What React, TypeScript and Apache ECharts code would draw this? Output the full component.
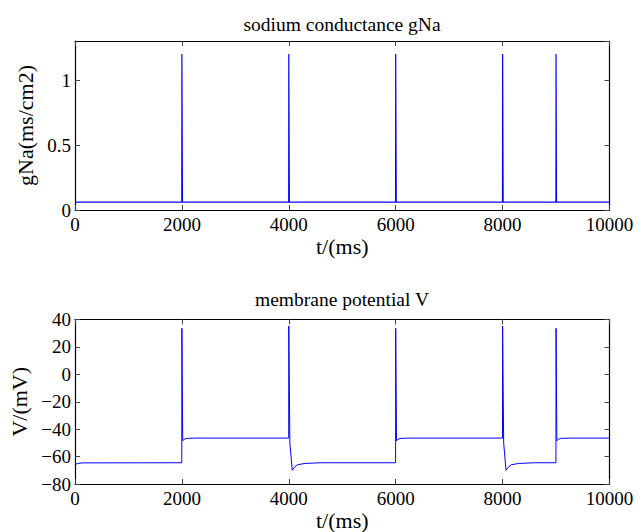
import React, { useEffect, useRef } from "react";
import * as echarts from "echarts";

const titles = ["sodium conductance gNa", "membrane potential V"];
const xName = "t/(ms)";
const yNames = ["gNa(ms/cm2)", "V/(mV)"];

const gNaTime = [0, 1998, 2000, 2010, 3998, 4000, 4010, 5998, 6000, 6010, 7998, 8000, 8010, 8998, 9000, 9008, 10000];
const gNaValue = [0.06, 0.06, 1.2, 0.06, 0.06, 1.2, 0.06, 0.06, 1.2, 0.06, 0.06, 1.2, 0.06, 0.06, 1.2, 0.06, 0.06];

const vTime = [
  0, 50, 150,
  1998, 2000, 2015, 2045, 2100, 2300,
  3998, 4000, 4020, 4064, 4100, 4160, 4300, 4600,
  5998, 6000, 6015, 6045, 6100, 6300,
  7998, 8000, 8020, 8064, 8100, 8160, 8300, 8600,
  8998, 9000, 9015, 9045, 9100, 9300,
  10000,
];
const vValue = [
  -66, -65, -64.6,
  -64.5, 33.6, -48.5, -47.3, -46.7, -46.5,
  -46.5, 35.2, -50, -70, -68, -66, -65, -64.5,
  -64.5, 33.6, -48.5, -47.3, -46.7, -46.5,
  -46.5, 35.2, -50, -70, -68, -66, -65, -64.5,
  -64.5, 33.6, -48.5, -47.3, -46.7, -46.5,
  -46.5,
];

const xRange = { min: 0, max: 10000, interval: 2000 };
const yRanges = [
  { min: 0, max: 1.3, interval: 0.5 },
  { min: -80, max: 40, interval: 20 },
];

const FONT = "'Liberation Serif', 'Times New Roman', serif";
const fmt = (v: number) => String(v).replace("-", "\u2212");

export default function App() {
  const ref = useRef<HTMLDivElement>(null);
  useEffect(() => {
    if (!ref.current) return;
    const chart = echarts.init(ref.current, null, { renderer: "svg" });
    const gridTops = [41, 319.5];
    const grids = gridTops.map((top) => ({ left: 75, right: 34.5, top, height: 169, containLabel: false, show: false }));
    const axisLine = { show: true, onZero: false, lineStyle: { color: "#000", width: 1.2 } };
    const axisTick = { show: true, inside: true, length: 5, lineStyle: { color: "#444", width: 1 } };
    const xAxes: any[] = [];
    const yAxes: any[] = [];
    [0, 1].forEach((g) => {
      xAxes.push({
        type: "value", gridIndex: g, position: "bottom", ...xRange,
        axisLine, axisTick, splitLine: { show: false },
        axisLabel: { color: "#000", fontFamily: FONT, fontSize: 19, margin: 5, formatter: fmt },
        name: xName, nameLocation: "middle", nameGap: 25,
        nameTextStyle: { color: "#000", fontFamily: FONT, fontSize: 22 },
      });
      xAxes.push({
        type: "value", gridIndex: g, position: "top", ...xRange,
        axisLine, axisTick, splitLine: { show: false }, axisLabel: { show: false },
      });
      yAxes.push({
        type: "value", gridIndex: g, position: "left", ...yRanges[g],
        axisLine, axisTick, splitLine: { show: false },
        axisLabel: { color: "#000", fontFamily: FONT, fontSize: 19, margin: 4, showMaxLabel: g === 1, formatter: fmt },
        name: yNames[g], nameLocation: "middle", nameGap: 37,
        nameTextStyle: { color: "#000", fontFamily: FONT, fontSize: 22 },
      });
      yAxes.push({
        type: "value", gridIndex: g, position: "right", ...yRanges[g],
        axisLine, axisTick, splitLine: { show: false }, axisLabel: { show: false },
      });
    });
    const gNaData = gNaTime.map((t, i) => [t, gNaValue[i]]);
    const vData = vTime.map((t, i) => [t, vValue[i]]);
    chart.setOption({
      animation: false,
      backgroundColor: "#fff",
      title: titles.map((text, i) => ({
        text, left: 337, top: i === 0 ? 9 : 284, textAlign: "center",
        textStyle: { color: "#000", fontFamily: FONT, fontSize: 19.5, fontWeight: "normal" },
      })),
      grid: grids,
      xAxis: xAxes,
      yAxis: yAxes,
      series: [
        {
          type: "line", xAxisIndex: 0, yAxisIndex: 0, data: gNaData, showSymbol: false,
          lineStyle: { color: "#0000ff", width: 1.2 }, itemStyle: { color: "#0000ff" },
        },
        {
          type: "line", xAxisIndex: 2, yAxisIndex: 2, data: vData, showSymbol: false,
          lineStyle: { color: "#0000ff", width: 1 }, itemStyle: { color: "#0000ff" },
        },
      ],
    });
    return () => chart.dispose();
  }, []);
  return <div ref={ref} style={{ position: "fixed", left: 0, top: 0, width: 644, height: 532 }} />;
}
